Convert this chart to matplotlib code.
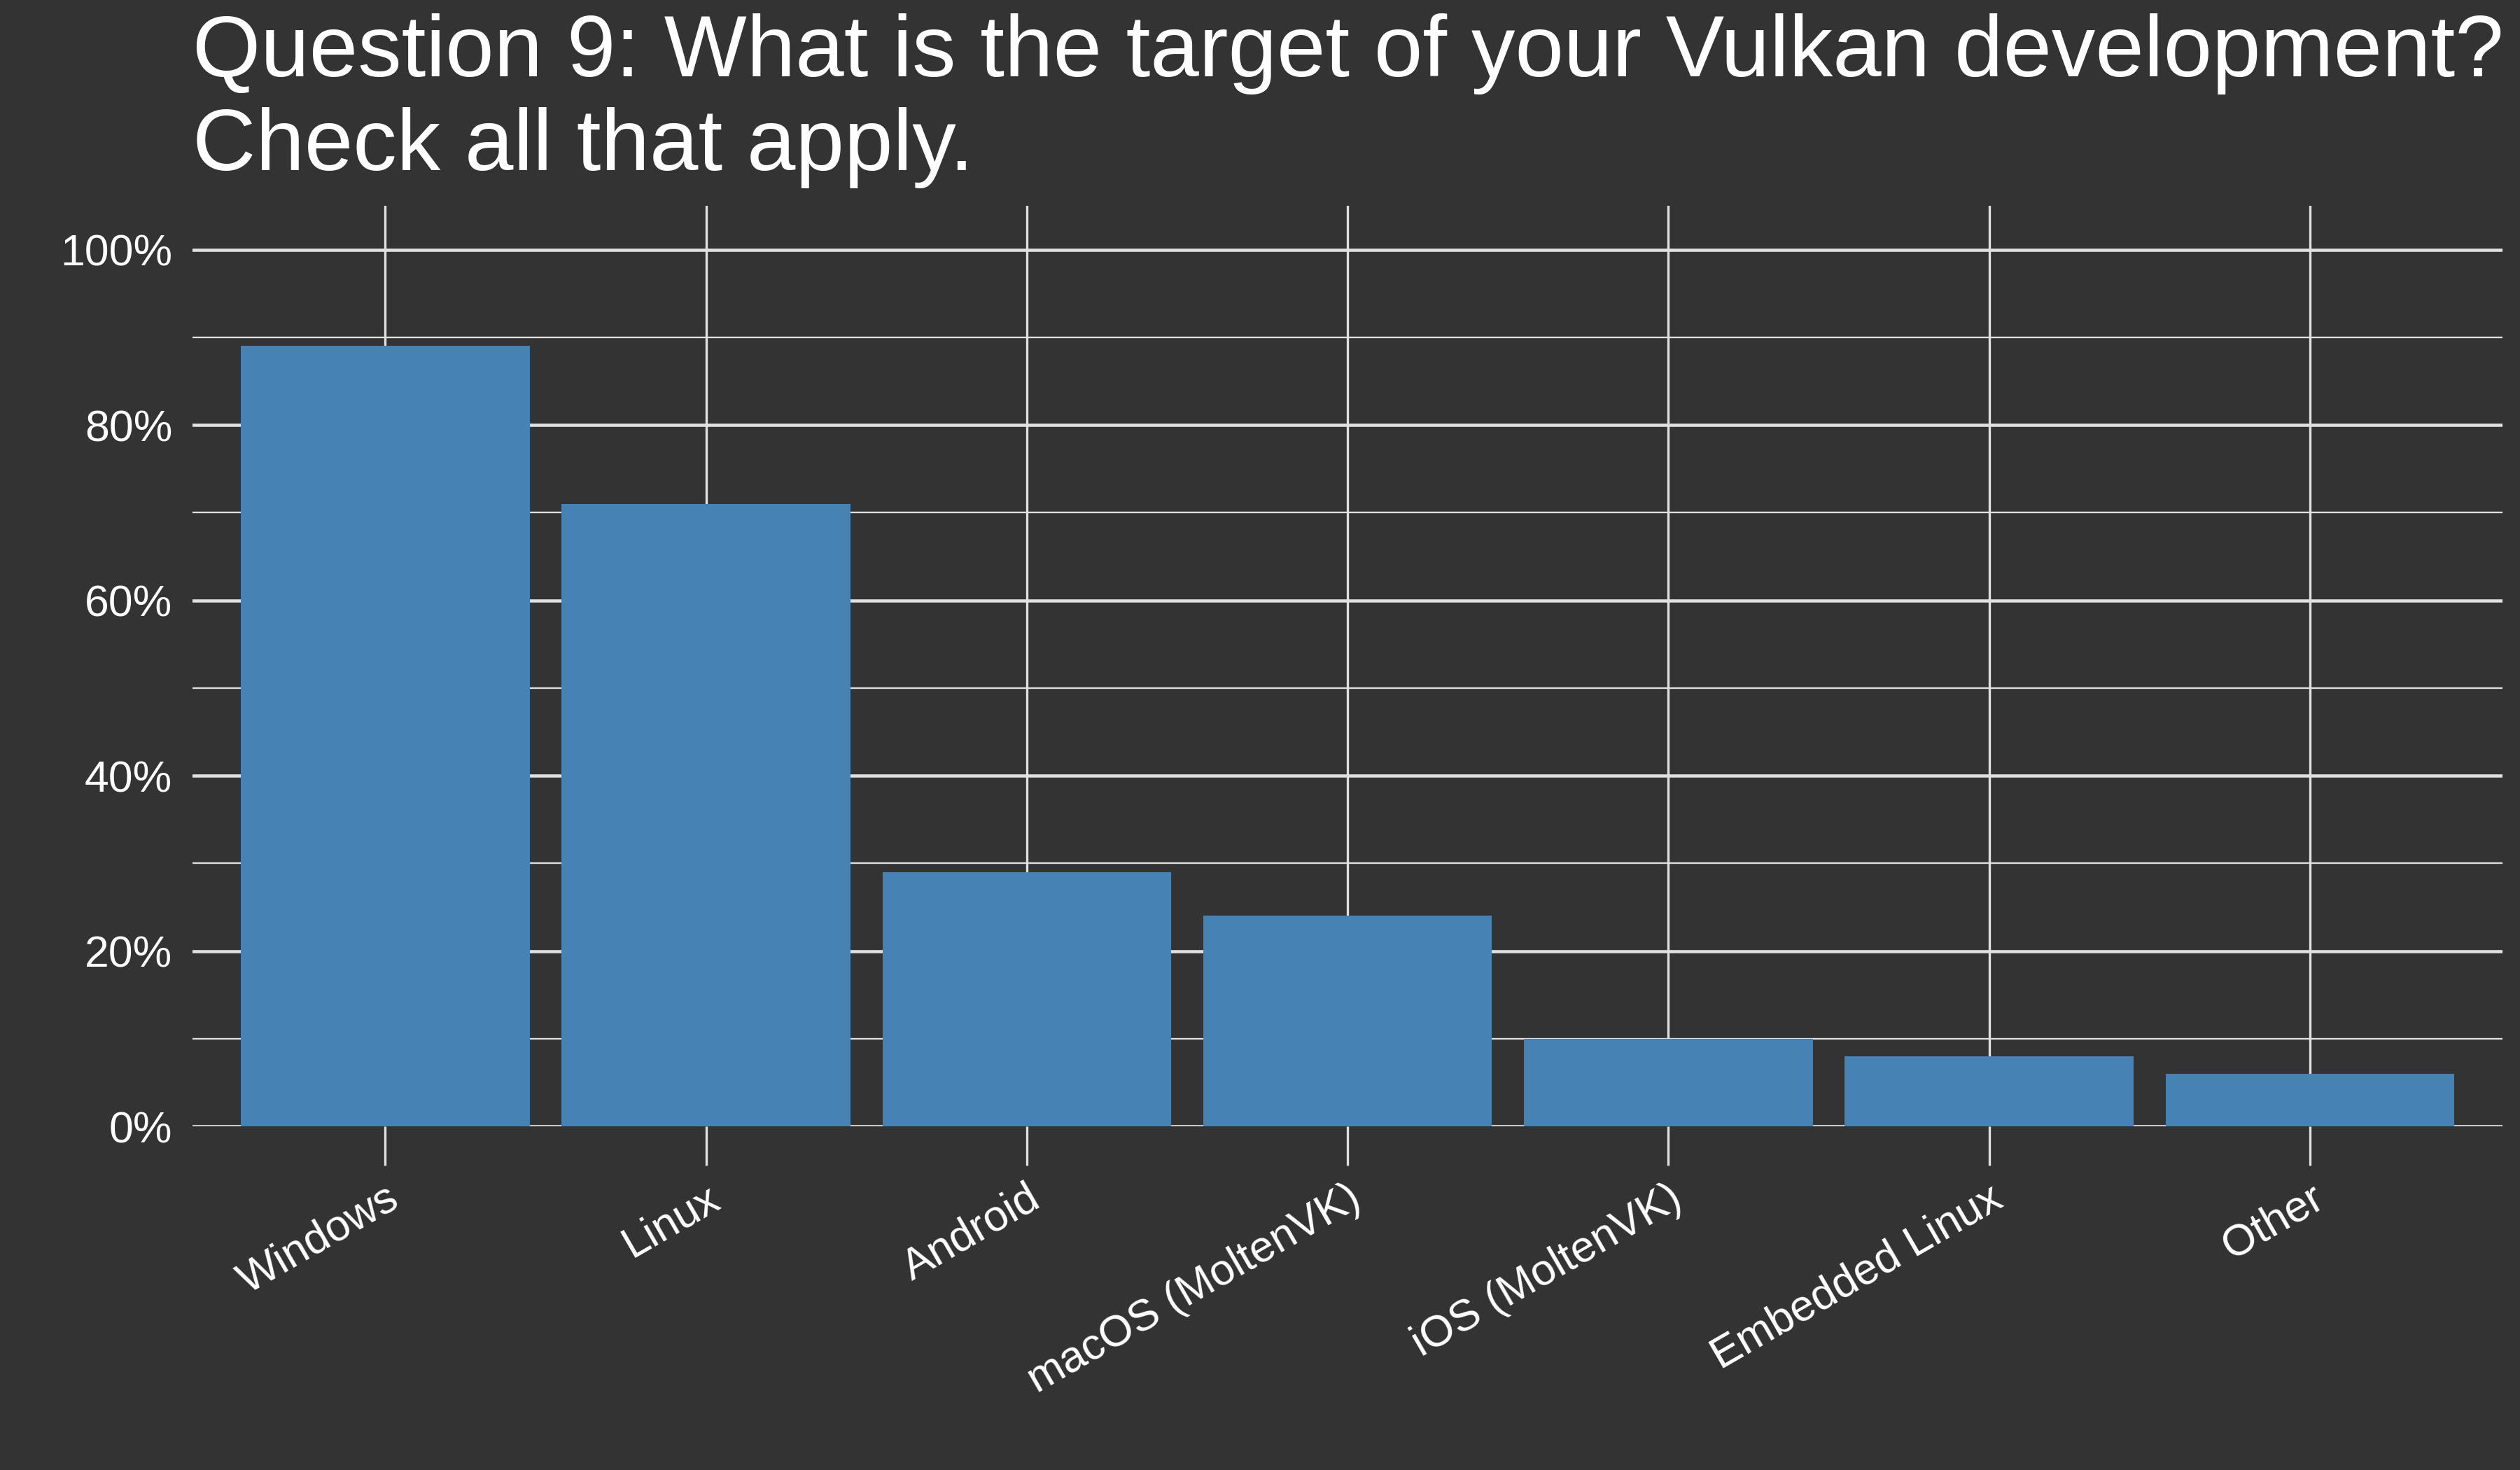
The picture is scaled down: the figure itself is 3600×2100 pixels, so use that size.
import matplotlib
matplotlib.use("Agg")
import matplotlib.pyplot as plt
from matplotlib.ticker import PercentFormatter, MultipleLocator

# ---------------- data ---------------- #
targets = ["Windows", "Linux", "Android", "macOS (MoltenVK)",
           "iOS (MoltenVK)", "Embedded Linux", "Other"]
shares = [0.89, 0.71, 0.29, 0.24, 0.10, 0.08, 0.06]

title_text = ("Question 9: What is the target of your Vulkan development?\n"
              "Check all that apply.")

# ---------------- style ---------------- #
bg = "#333333"
bar_color = "#4682b4"
grid_color = "#e0e0e0"
plt.rcParams["font.family"] = ["Liberation Sans", "DejaVu Sans"]

fig = plt.figure(figsize=(12, 7), dpi=300, facecolor=bg)
ax = fig.add_axes([0.0765, 0.2338, 0.9165, 0.6262])
ax.set_facecolor(bg)

x = list(range(len(targets)))
ax.bar(x, shares, width=0.9, color=bar_color, zorder=2)

ax.set_xlim(-0.6, len(targets) - 0.4)
ax.set_ylim(0, 1.05)

ax.yaxis.set_major_locator(MultipleLocator(0.2))
ax.yaxis.set_minor_locator(MultipleLocator(0.1))
ax.yaxis.set_major_formatter(PercentFormatter(1.0, decimals=0))

ax.grid(axis="y", which="major", color=grid_color, linewidth=1.1, zorder=0)
ax.grid(axis="y", which="minor", color=grid_color, linewidth=0.55, zorder=0)
ax.grid(axis="x", which="major", color=grid_color, linewidth=0.8, zorder=0)
ax.set_axisbelow(True)

for s in ax.spines.values():
    s.set_visible(False)

ax.set_xticks(x)
ax.set_xticklabels(targets, rotation=30, ha="right", va="top",
                   rotation_mode="anchor")
ax.tick_params(axis="x", length=13.5, width=0.8, color=grid_color,
               labelcolor="white", labelsize=15, pad=4)
ax.tick_params(axis="y", which="both", length=0, labelcolor="white",
               labelsize=15, pad=7)

fig.text(0.0765, 0.872, title_text, color="white", fontsize=30,
         ha="left", va="bottom", linespacing=1.2)

fig.savefig("out.png", dpi=300, facecolor=bg)
